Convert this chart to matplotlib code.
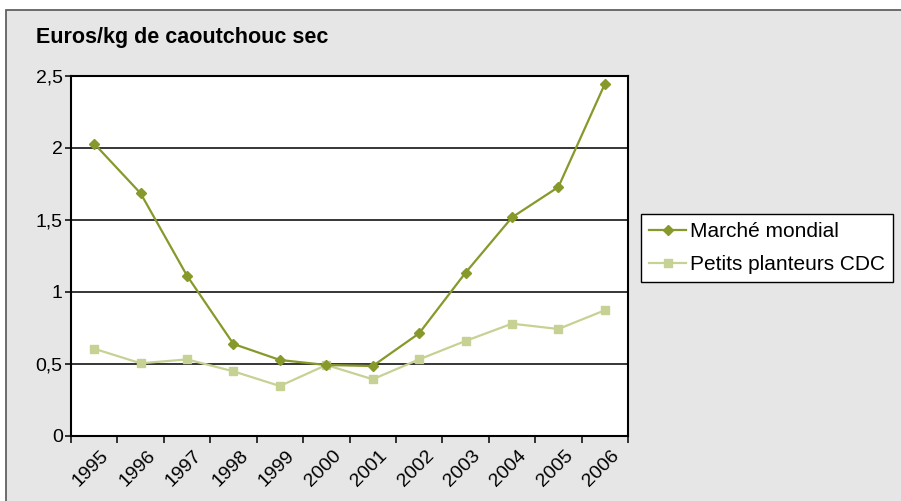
import matplotlib.pyplot as plt
import matplotlib.transforms as mtransforms
from matplotlib.patches import Rectangle
import numpy as np

plt.rcParams['font.family'] = ['Liberation Sans', 'DejaVu Sans']

years = ["1995", "1996", "1997", "1998", "1999", "2000",
         "2001", "2002", "2003", "2004", "2005", "2006"]
marche_mondial = [2.03, 1.685, 1.113, 0.639, 0.528, 0.493,
                  0.486, 0.713, 1.134, 1.518, 1.729, 2.444]
petits_planteurs = [0.606, 0.505, 0.532, 0.449, 0.347, 0.493,
                    0.394, 0.532, 0.66, 0.78, 0.743, 0.873]
y_ticks = [0, 0.5, 1, 1.5, 2, 2.5]
y_labels = ["0", "0,5", "1", "1,5", "2", "2,5"]

W, H = 901, 501
fig = plt.figure(figsize=(W / 100, H / 100), dpi=100)
fig.patch.set_facecolor("white")

# grey panel with dark border (top and left visible)
fig.patches.append(Rectangle((6 / W, -0.1), 1.2, (H - 10) / H + 0.1,
                             transform=fig.transFigure, facecolor="#e6e6e6",
                             edgecolor="#555555", linewidth=1.2, zorder=-5))

# plot area: x 71..628, y 76..436 (pixels from top)
ax = fig.add_axes([71 / W, 1 - 436 / H, (628 - 71) / W, (436 - 76) / H])
ax.set_facecolor("white")

x = np.arange(len(years))
ax.plot(x, marche_mondial, color="#86992a", lw=1.6, marker="D", ms=5.5,
        label="Marché mondial", zorder=4)
ax.plot(x, petits_planteurs, color="#c6d293", lw=1.6, marker="s", ms=6,
        label="Petits planteurs CDC", zorder=3)

ax.set_xlim(-0.5, len(years) - 0.5)
ax.set_ylim(0, 2.5)
ax.set_yticks(y_ticks)
ax.set_yticklabels(y_labels, fontsize=14)
for v in y_ticks[1:-1]:
    ax.axhline(v, color="black", lw=1.1, zorder=1)

ax.set_xticks(np.arange(len(years) + 1) - 0.5)
ax.set_xticklabels([])
ax.set_xticks(x, minor=True)
ax.set_xticklabels(years, minor=True, rotation=45, ha="right",
                   rotation_mode="anchor", fontsize=14)
ax.tick_params(axis="x", which="minor", length=0, pad=8)
ax.tick_params(axis="x", which="major", length=5, width=1.1, direction="out")
ax.tick_params(axis="y", length=4, width=1.1, direction="out", pad=2)
shift = mtransforms.ScaledTranslation(6 / 100, 0, fig.dpi_scale_trans)
for lbl in ax.get_xticklabels(minor=True):
    lbl.set_transform(lbl.get_transform() + shift)
for s in ax.spines.values():
    s.set_linewidth(1.5)
    s.set_color("black")

fig.text(36 / W, 1 - 37 / H, "Euros/kg de caoutchouc sec", fontsize=15.5,
         fontweight="bold", va="center", ha="left")

leg = ax.legend(loc="center left", bbox_to_anchor=(641 / W, 1 - 248 / H),
                bbox_transform=fig.transFigure, fontsize=15, frameon=True,
                fancybox=False, edgecolor="black", framealpha=1,
                handlelength=1.75, handletextpad=0.2, borderpad=0.4,
                labelspacing=0.68, borderaxespad=0)
leg.get_frame().set_linewidth(1.0)

fig.savefig("out.png", dpi=100)
